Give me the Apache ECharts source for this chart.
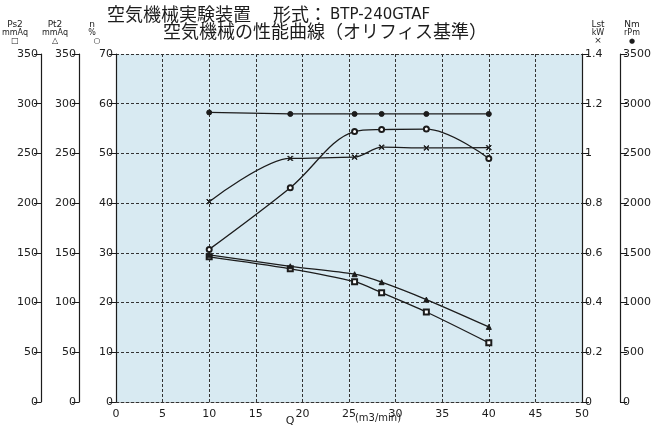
<!DOCTYPE html>
<html>
<head>
<meta charset="utf-8">
<script src="https://cdn.jsdelivr.net/npm/echarts@6/dist/echarts.min.js"></script>
<style>
  html, body { margin: 0; padding: 0; background: #fff; }
  #chart { width: 654px; height: 427px; }
</style>
</head>
<body>
<div id="chart"></div>
<script>
// flow rate Q (m3/min) at each measured point
var qValues = [10, 18.7, 25.6, 28.5, 33.3, 40]
var ps2Values = [146, 134, 121, 110, 90.5, 59.5]      // mmAq  (□)
var pt2Values = [148, 136.5, 128.5, 120.5, 103, 75.5] // mmAq  (△)
var effValues = [30.7, 43.1, 54.4, 54.8, 54.9, 49]    // %     (○)
var lstValues = [0.806, 0.98, 0.985, 1.025, 1.022, 1.023] // kW (×)
var rpmValues = [2912, 2897, 2897, 2897, 2897, 2897]  // rpm   (●)

var xRange = [0, 50, 5]
var pressRange = [0, 350, 50]
var effRange = [0, 70, 10]
var lstRange = [0, 1.4, 0.2]
var rpmRange = [0, 3500, 500]

var ink = '#1c1c1c'
var font = 'DejaVu Sans'
var gridDash = { color: '#333', width: 1, type: [3, 2] }

function pairs (ys) {
  return qValues.map(function (q, i) { return [q, ys[i]] })
}

function plain (v) { return String(+v.toFixed(1)) }

function sideAxis (pos, offset, range) {
  return {
    type: 'value',
    position: pos,
    offset: offset,
    min: range[0],
    max: range[1],
    interval: range[2],
    axisLine: { show: true, onZero: false, lineStyle: { color: ink, width: 1.2 } },
    axisTick: { show: true, length: 7, lineStyle: { color: ink } },
    axisLabel: { color: ink, fontFamily: font, fontSize: 11, margin: 3, formatter: plain },
    splitLine: { show: false }
  }
}

var effAxis = sideAxis('left', 0, effRange)
effAxis.splitLine = { show: true, lineStyle: gridDash }

var crossSym = 'path://M0,1L1,0L5,4L9,0L10,1L6,5L10,9L9,10L5,6L1,10L0,9L4,5Z'

function lineSeries (name, yIdx, ys, sym, size, smooth, mono) {
  return {
    name: name,
    type: 'line',
    yAxisIndex: yIdx,
    data: pairs(ys),
    smooth: smooth,
    smoothMonotone: mono,
    symbol: sym,
    symbolSize: size,
    showSymbol: true,
    lineStyle: { color: ink, width: 1.3 },
    itemStyle: { color: ink, borderColor: ink, borderWidth: 1 },
    z: 5
  }
}

function txt (x, y, s, size, align) {
  return {
    type: 'text', x: x, y: y,
    style: { text: s, fill: ink, font: size + 'px "' + font + '", "Noto Sans CJK JP"', textAlign: align || 'center', textVerticalAlign: 'middle' }
  }
}

var myChart = echarts.init(document.getElementById('chart'))
myChart.setOption({
  animation: false,
  backgroundColor: '#ffffff',
  grid: {
    left: 116, right: 72, top: 54, bottom: 25,
    show: true, backgroundColor: '#d8eaf2', borderWidth: 0
  },
  xAxis: {
    type: 'value',
    min: xRange[0],
    max: xRange[1],
    interval: xRange[2],
    axisLine: { show: true, lineStyle: gridDash },
    axisTick: { show: false },
    axisLabel: { color: ink, fontFamily: font, fontSize: 11, margin: 7 },
    splitLine: { show: true, lineStyle: gridDash }
  },
  yAxis: [
    sideAxis('left', 75, pressRange),
    sideAxis('left', 37, pressRange),
    effAxis,
    sideAxis('right', 0, lstRange),
    sideAxis('right', 38, rpmRange)
  ],
  series: [
    lineSeries('Ps2', 0, ps2Values, 'emptyRect', 5, 0.3, null),
    lineSeries('Pt2', 1, pt2Values, 'triangle', 5, 0.3, null),
    lineSeries('n', 2, effValues, 'emptyCircle', 5, 0.35, null),
    lineSeries('Lst', 3, lstValues, crossSym, 5, 0.3, 'x'),
    lineSeries('Nm', 4, rpmValues, 'circle', 5, false, null)
  ],
  graphic: [
    txt(107, 16, '空気機械実験装置', 18, 'left'),
    txt(273, 16, '形式：', 18, 'left'),
    txt(330, 15, 'BTP-240GTAF', 15, 'left'),
    txt(163, 33, '空気機械の性能曲線（オリフィス基準）', 18, 'left'),
    txt(15, 25, 'Ps2', 9), txt(15, 33, 'mmAq', 8), txt(15, 41, '□', 8),
    txt(55, 25, 'Pt2', 9), txt(55, 33, 'mmAq', 8), txt(55, 41, '△', 8),
    txt(92, 25, 'n', 9), txt(92, 33, '%', 8), txt(97, 41, '○', 8),
    txt(598, 25, 'Lst', 9), txt(598, 33, 'kW', 8), txt(598, 41, '×', 9),
    txt(632, 25, 'Nm', 9), txt(632, 33, 'rPm', 8), txt(632, 41, '●', 7),
    txt(290, 421, 'Q', 11),
    txt(378, 418, '(m3/min)', 10)
  ]
})
</script>
</body>
</html>
